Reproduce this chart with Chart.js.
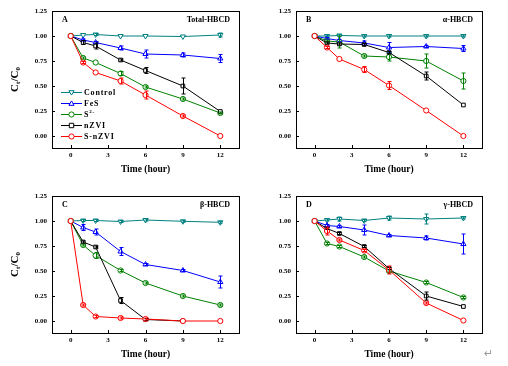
<!DOCTYPE html>
<html>
<head>
<meta charset="utf-8">
<script src="https://cdn.jsdelivr.net/npm/chart.js@4.4.0/dist/chart.umd.min.js"></script>
<style>
  body { margin: 0; background: #fff; }
  #wrap { position: relative; width: 508px; height: 366px; overflow: hidden; }
  canvas { position: absolute; }
  #mark { position: absolute; left: 484px; top: 347px; font: 11px "DejaVu Sans"; color: #999; }
</style>
</head>
<body>
<div id="wrap">
  <canvas id="chartA" width="254" height="183" style="left:0;top:0"></canvas>
  <canvas id="chartB" width="254" height="183" style="left:254px;top:0"></canvas>
  <canvas id="chartC" width="254" height="183" style="left:0;top:183px"></canvas>
  <canvas id="chartD" width="254" height="183" style="left:254px;top:183px"></canvas>
  <div id="mark">↵</div>
</div>
<script>
const hours = [0, 1, 2, 4, 6, 9, 12];
const xTicks = [0, 3, 6, 9, 12];
const yTicks = [0, 0.25, 0.5, 0.75, 1.0, 1.25];
const seriesNames = ['Control', 'FeS', 'S2-', 'nZVI', 'S-nZVI'];

// A: Total-HBCD
const aControl = [1.00, 1.01, 1.015, 1.00, 1.00, 0.995, 1.01];
const aFeS     = [1.00, 0.96, 0.935, 0.88, 0.82, 0.81, 0.775];
const aS2      = [1.00, 0.78, 0.735, 0.625, 0.49, 0.37, 0.23];
const aNZVI    = [1.00, 0.935, 0.90, 0.76, 0.655, 0.50, 0.245];
const aSNZVI   = [1.00, 0.735, 0.635, 0.55, 0.41, 0.20, 0.00];
const aControlErr = [0, 0, 0.01, 0, 0, 0, 0.02];
const aFeSErr     = [0, 0.01, 0.01, 0.02, 0.04, 0.02, 0.04];
const aS2Err      = [0, 0.01, 0, 0.02, 0.01, 0.01, 0.01];
const aNZVIErr    = [0, 0.02, 0.03, 0.01, 0.03, 0.08, 0];
const aSNZVIErr   = [0, 0.01, 0, 0.03, 0.04, 0.01, 0];

// B: alpha-HBCD
const bControl = [1.00, 1.00, 1.005, 1.00, 1.00, 1.00, 1.00];
const bFeS     = [1.00, 0.975, 0.955, 0.93, 0.885, 0.895, 0.875];
const bS2      = [1.00, 0.95, 0.94, 0.80, 0.79, 0.75, 0.55];
const bNZVI    = [1.00, 0.93, 0.92, 0.915, 0.835, 0.60, 0.31];
const bSNZVI   = [1.00, 0.885, 0.77, 0.665, 0.505, 0.255, 0.00];
const bControlErr = [0, 0.01, 0.01, 0.01, 0.01, 0.01, 0.01];
const bFeSErr     = [0, 0.01, 0.01, 0.02, 0.05, 0.01, 0.03];
const bS2Err      = [0, 0.01, 0.06, 0.01, 0.04, 0.07, 0.08];
const bNZVIErr    = [0, 0.01, 0.01, 0.01, 0.01, 0.04, 0];
const bSNZVIErr   = [0, 0.01, 0, 0.03, 0.04, 0, 0];

// C: beta-HBCD
const cControl = [1.00, 1.005, 1.005, 0.995, 1.01, 0.997, 0.987];
const cFeS     = [1.00, 0.935, 0.89, 0.695, 0.565, 0.505, 0.39];
const cS2      = [1.00, 0.76, 0.655, 0.505, 0.38, 0.25, 0.16];
const cNZVI    = [1.00, 0.79, 0.74, 0.205, 0.015, 0.00, null];
const cSNZVI   = [1.00, 0.16, 0.045, 0.03, 0.02, 0.00, 0.00];
const cControlErr = [0, 0.01, 0.01, 0.01, 0.01, 0.01, 0.01];
const cFeSErr     = [0, 0.03, 0.03, 0.04, 0.01, 0.01, 0.06];
const cS2Err      = [0, 0.01, 0.03, 0.01, 0.01, 0.01, 0.01];
const cNZVIErr    = [0, 0.01, 0.01, 0.03, 0.01, 0, 0];
const cSNZVIErr   = [0, 0.01, 0.01, 0.01, 0.01, 0, 0];

// D: gamma-HBCD
const dControl = [1.00, 1.01, 1.02, 1.005, 1.03, 1.02, 1.03];
const dFeS     = [1.00, 0.955, 0.945, 0.91, 0.855, 0.83, 0.77];
const dS2      = [1.00, 0.775, 0.745, 0.64, 0.50, 0.385, 0.235];
const dNZVI    = [1.00, 0.925, 0.875, 0.745, 0.525, 0.25, 0.145];
const dSNZVI   = [1.00, 0.90, 0.81, 0.705, 0.51, 0.18, 0.005];
const dControlErr = [0, 0.01, 0.02, 0.01, 0.02, 0.05, 0.01];
const dFeSErr     = [0, 0.01, 0.01, 0.05, 0.01, 0.02, 0.10];
const dS2Err      = [0, 0.01, 0.01, 0.01, 0.01, 0.01, 0.01];
const dNZVIErr    = [0, 0.01, 0.01, 0.01, 0.01, 0.04, 0];
const dSNZVIErr   = [0, 0.04, 0.01, 0.01, 0.04, 0.01, 0];

const colors = ['#008080', '#0000ff', '#008000', '#000000', '#ff0000'];
const markers = ['triangle', 'triangle', 'circle', 'rect', 'circle'];
const rotations = [180, 0, 0, 0, 0];
const FONT = '"Liberation Serif", "Times New Roman", serif';

function drawMarker(ctx, style, rot, x, y, r) {
    ctx.beginPath();
    if (style === 'circle') {
        ctx.arc(x, y, r, 0, Math.PI * 2);
    } else if (style === 'rect') {
        ctx.rect(x - r * 0.85, y - r * 0.85, r * 1.7, r * 1.7);
    } else {
        const s = rot ? -1 : 1;
        ctx.moveTo(x, y - s * r);
        ctx.lineTo(x + r, y + s * r * 0.7);
        ctx.lineTo(x - r, y + s * r * 0.7);
        ctx.closePath();
    }
    ctx.fill();
    ctx.stroke();
}

const decor = {
    id: 'decor',
    afterDatasetsDraw(chart, args, opts) {
        const ctx = chart.ctx;
        const xs = chart.scales.x, ys = chart.scales.y;
        ctx.save();
        // error bars
        chart.data.datasets.forEach(ds => {
            ctx.strokeStyle = ds.borderColor;
            ctx.lineWidth = 1;
            ds.data.forEach((pt, j) => {
                const e = ds.errors[j];
                if (pt.y === null || !e) return;
                const px = Math.round(xs.getPixelForValue(pt.x)) + 0.5;
                const y1 = ys.getPixelForValue(pt.y + e), y2 = ys.getPixelForValue(pt.y - e);
                ctx.beginPath();
                ctx.moveTo(px, y1); ctx.lineTo(px, y2);
                ctx.moveTo(px - 2, y1); ctx.lineTo(px + 2, y1);
                ctx.moveTo(px - 2, y2); ctx.lineTo(px + 2, y2);
                ctx.stroke();
            });
        });
        ctx.restore();
    },
    afterDraw(chart, args, opts) {
        const ctx = chart.ctx;
        const a = chart.chartArea;
        const xs = chart.scales.x, ys = chart.scales.y;
        ctx.save();
        ctx.strokeStyle = '#000';
        ctx.lineWidth = 1;
        ctx.strokeRect(Math.round(a.left) + 0.5, Math.round(a.top) + 0.5,
            Math.round(a.right - a.left), Math.round(a.bottom - a.top));
        // inward ticks
        ctx.beginPath();
        xTicks.forEach(v => {
            const px = Math.round(xs.getPixelForValue(v)) + 0.5;
            ctx.moveTo(px, a.bottom); ctx.lineTo(px, a.bottom - 3);
        });
        yTicks.forEach(v => {
            const py = Math.round(ys.getPixelForValue(v)) + 0.5;
            ctx.moveTo(a.left, py); ctx.lineTo(a.left + 3, py);
        });
        ctx.stroke();

        ctx.fillStyle = '#000';
        ctx.font = 'bold 8px ' + FONT;
        ctx.textBaseline = 'middle';
        ctx.textAlign = 'left';
        ctx.fillText(opts.letter, a.left + 10, a.top + 9);
        ctx.textAlign = 'right';
        ctx.fillText(opts.title, a.right - 9, a.top + 9);

        ctx.font = 'bold 9.5px ' + FONT;
        ctx.textAlign = 'center';
        ctx.fillText('Time (hour)', (a.left + a.right) / 2, a.bottom + 22);

        if (opts.yTitle) {
            ctx.save();
            ctx.translate(15, (a.top + a.bottom) / 2);
            ctx.rotate(-Math.PI / 2);
            const parts = [['C', 11, 0], ['t', 7, 3], ['/C', 11, 0], ['0', 7, 3]];
            let w = 0;
            parts.forEach(p => { ctx.font = 'bold ' + p[1] + 'px ' + FONT; w += ctx.measureText(p[0]).width; });
            let x = -w / 2;
            ctx.textAlign = 'left';
            parts.forEach(p => {
                ctx.font = 'bold ' + p[1] + 'px ' + FONT;
                ctx.fillText(p[0], x, p[2]);
                x += ctx.measureText(p[0]).width;
            });
            ctx.restore();
        }

        if (opts.legend) {
            chart.data.datasets.forEach((ds, i) => {
                const y = a.top + 81.5 + i * 11;
                const x0 = a.left + 9;
                ctx.strokeStyle = ds.borderColor;
                ctx.fillStyle = '#fff';
                ctx.beginPath();
                ctx.moveTo(x0, y); ctx.lineTo(x0 + 21, y);
                ctx.stroke();
                drawMarker(ctx, markers[i], rotations[i], x0 + 10.5, y, 2.6);
                ctx.fillStyle = '#000';
                ctx.textAlign = 'left';
                ctx.font = 'bold 8px ' + FONT;
                ctx.letterSpacing = '0.8px';
                if (seriesNames[i] === 'S2-') {
                    ctx.fillText('S', x0 + 23, y);
                    const sw = ctx.measureText('S').width;
                    ctx.font = 'bold 5px ' + FONT;
                    ctx.fillText('2-', x0 + 23 + sw, y - 3);
                } else {
                    ctx.fillText(seriesNames[i], x0 + 23, y);
                }
                ctx.letterSpacing = '0px';
            });
        }
        ctx.restore();
    }
};

function makePanel(id, values, errors, cfg) {
    const datasets = values.map((vals, i) => ({
        label: seriesNames[i],
        data: vals.map((v, j) => ({ x: hours[j], y: v })),
        errors: errors[i],
        borderColor: colors[i],
        backgroundColor: '#fff',
        pointBackgroundColor: '#fff',
        pointBorderColor: colors[i],
        pointStyle: markers[i],
        pointRotation: rotations[i],
        pointRadius: markers[i] === 'triangle' ? 3 : 2.6,
        pointBorderWidth: 1,
        borderWidth: 1,
        tension: 0,
        spanGaps: false,
        order: 5 - i
    }));
    const tickFont = { family: FONT, size: 7, weight: 'bold' };
    new Chart(document.getElementById(id), {
        type: 'line',
        data: { datasets: datasets },
        options: {
            responsive: false,
            animation: false,
            devicePixelRatio: 1,
            layout: { padding: { left: 0, top: cfg.top, right: cfg.right, bottom: 0 } },
            plugins: {
                legend: { display: false },
                tooltip: { enabled: false },
                decor: cfg.decor
            },
            scales: {
                x: {
                    type: 'linear',
                    min: -1.5, max: 13.5,
                    grid: { display: false, drawTicks: false },
                    border: { display: false },
                    afterBuildTicks: s => { s.ticks = xTicks.map(v => ({ value: v })); },
                    afterFit: s => { s.height = cfg.xHeight; },
                    ticks: { font: tickFont, color: '#000', padding: 3, maxRotation: 0, autoSkip: false,
                        callback: v => String(v) }
                },
                y: {
                    min: -0.12, max: 1.25,
                    grid: { display: false, drawTicks: false },
                    border: { display: false },
                    afterBuildTicks: s => { s.ticks = yTicks.map(v => ({ value: v })); },
                    afterFit: s => { s.width = cfg.left; },
                    ticks: { font: tickFont, color: '#000', padding: 5,
                        callback: v => Number(v).toFixed(2) }
                }
            }
        },
        plugins: [decor]
    });
}

makePanel('chartA', [aControl, aFeS, aS2, aNZVI, aSNZVI],
    [aControlErr, aFeSErr, aS2Err, aNZVIErr, aSNZVIErr],
    { top: 11, right: 15, left: 52, xHeight: 35,
      decor: { letter: 'A', title: 'Total-HBCD', yTitle: true, legend: true } });
makePanel('chartB', [bControl, bFeS, bS2, bNZVI, bSNZVI],
    [bControlErr, bFeSErr, bS2Err, bNZVIErr, bSNZVIErr],
    { top: 11, right: 26, left: 42, xHeight: 35,
      decor: { letter: 'B', title: 'α-HBCD', yTitle: false, legend: false } });
makePanel('chartC', [cControl, cFeS, cS2, cNZVI, cSNZVI],
    [cControlErr, cFeSErr, cS2Err, cNZVIErr, cSNZVIErr],
    { top: 13, right: 15, left: 52, xHeight: 33,
      decor: { letter: 'C', title: 'β-HBCD', yTitle: true, legend: false } });
makePanel('chartD', [dControl, dFeS, dS2, dNZVI, dSNZVI],
    [dControlErr, dFeSErr, dS2Err, dNZVIErr, dSNZVIErr],
    { top: 13, right: 26, left: 42, xHeight: 33,
      decor: { letter: 'D', title: 'γ-HBCD', yTitle: false, legend: false } });
</script>
</body>
</html>
